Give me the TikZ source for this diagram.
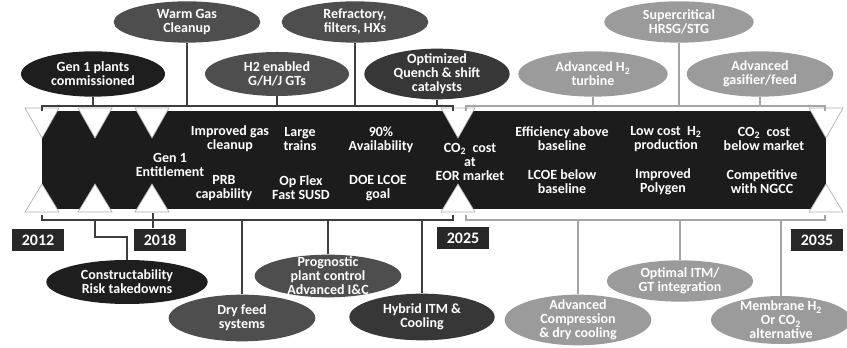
\documentclass[tikz,border=0pt]{standalone}
\usepackage{fontspec}
\setmainfont{Carlito}
\usepackage{tikz}
\usetikzlibrary{calc,shapes.geometric}
\definecolor{bandblack}{RGB}{28,28,28}
\definecolor{yearblack}{RGB}{40,40,40}
\definecolor{ovalblack}{RGB}{30,30,30}
\definecolor{ovaldark}{RGB}{78,78,78}
\definecolor{ovalmid}{RGB}{55,55,55}
\definecolor{ovallight}{RGB}{155,155,155}
\definecolor{linedark}{RGB}{62,62,62}
\definecolor{linelight}{RGB}{165,165,165}
\definecolor{notchgrey}{RGB}{175,175,175}
\tikzset{
  link/.style={draw=linedark, line width=1.5pt},
  linksoft/.style={draw=linelight, line width=1.6pt},
  oval/.style={
    ellipse,
    inner sep=-8pt,
    align=center,
    text=white,
    font=\bfseries\fontsize{10.5}{10.5}\selectfont
  },
  blackoval/.style={oval, fill=ovalblack},
  darkoval/.style={oval, fill=ovaldark},
  midoval/.style={oval, fill=ovalmid},
  lightoval/.style={oval, fill=ovallight},
  yearbox/.style={
    fill=yearblack,
    text=white,
    inner sep=0pt,
    minimum width=39pt,
    minimum height=17pt,
    font=\bfseries\fontsize{12}{12}\selectfont
  },
  bandtext/.style={align=center, text=white, inner sep=0pt, font=\bfseries\fontsize{10.5}{10.5}\selectfont},
  notch/.style={fill=white, draw=notchgrey, line width=0.5pt}
}

\begin{document}
\begin{tikzpicture}[x=0.75pt,y=-0.75pt]
  \useasboundingbox (0,0) rectangle (847,348);

  \fill[bandblack] (42,111) rectangle (826,209);
  \foreach \tx in {42,95,152,458,826}{
    \draw[notch] (\tx-17,108) -- (\tx+17,108) -- (\tx,138) -- cycle;
    \draw[notch] (\tx-17,212) -- (\tx+17,212) -- (\tx,184) -- cycle;
  }

  \node[bandtext] (entitle) at (170,165) {Gen 1\\Entitlement};
  \node[bandtext] (impgas) at (230,139) {Improved gas\\cleanup};
  \node[bandtext] (trains) at (300,139) {Large\\trains};
  \node[bandtext] (avail) at (381,140) {90\%\\Availability};
  \node[bandtext] (prb) at (224,188) {PRB\\capability};
  \node[bandtext] (opflex) at (301,188) {Op Flex\\Fast SUSD};
  \node[bandtext] (doegoal) at (378,188) {DOE LCOE\\goal};
  \node[bandtext] (eor) at (470,162) {CO\textsubscript{2}\ \ cost\\at\\EOR market};
  \node[bandtext] (effic) at (562,139) {Efficiency above\\baseline};
  \node[bandtext] (lcoe) at (562,182) {LCOE below\\baseline};
  \node[bandtext] (lowcost) at (666,139) {Low cost\ \ H\textsubscript{2}\\production};
  \node[bandtext] (polygen) at (663,182) {Improved\\Polygen};
  \node[bandtext] (cobelow) at (764,139) {CO\textsubscript{2}\ \ cost\\below market};
  \node[bandtext] (ngcc) at (762,182) {Competitive\\with NGCC};

  \coordinate (topdarkL) at (42,106);
  \coordinate (topdarkR) at (453,106);
  \coordinate (toplightL) at (466,106);
  \coordinate (toplightR) at (825,106);
  \coordinate (botdarkL) at (42,220);
  \coordinate (botdarkR) at (453,220);
  \coordinate (botlightL) at (466,220);
  \coordinate (botlightR) at (825,220);
  \coordinate (conbend) at (95,237);
  \coordinate (tick18) at (153,213);

  \node[yearbox] (y2012) at (38,240) {2012};
  \node[yearbox] (y2018) at (160,240) {2018};
  \node[yearbox] (y2025) at (463,238) {2025};
  \node[yearbox] (y2035) at (817,240) {2035};

  \node[darkoval,minimum width=110pt,minimum height=31pt]
    (warm) at (187,22) {Warm Gas\\Cleanup};
  \node[darkoval,minimum width=110pt,minimum height=31pt]
    (refract) at (355,22) {Refractory,\\filters, HXs};
  \node[lightoval,minimum width=112pt,minimum height=31pt]
    (supercrit) at (679,22) {Supercritical\\HRSG/STG};
  \node[blackoval,minimum width=108pt,minimum height=34pt]
    (genone) at (93,74) {Gen 1 plants\\commissioned};
  \node[darkoval,minimum width=108pt,minimum height=33pt]
    (htwo) at (277,74) {H2 enabled\\G/H/J GTs};
  \node[midoval,minimum width=109pt,minimum height=38pt]
    (quench) at (437,74) {Optimized\\Quench \& shift\\catalysts};
  \node[lightoval,minimum width=112pt,minimum height=34pt]
    (advhtwo) at (593,74) {Advanced H\textsubscript{2}\\turbine};
  \node[lightoval,minimum width=110pt,minimum height=34pt]
    (gasifier) at (760,74) {Advanced\\gasifier/feed};

  \node[blackoval,minimum width=121pt,minimum height=33pt]
    (construct) at (127,282) {Constructability\\Risk takedowns};
  \node[darkoval,minimum width=110pt,minimum height=35pt]
    (dryfeed) at (242,318) {Dry feed\\systems};
  \node[darkoval,minimum width=110pt,minimum height=32pt]
    (prognost) at (328,276) {Prognostic\\plant control\\Advanced I\&C};
  \node[midoval,minimum width=109pt,minimum height=35pt]
    (hybrid) at (422,317) {Hybrid ITM \&\\Cooling};
  \node[lightoval,minimum width=110pt,minimum height=38pt]
    (compress) at (578,320) {Advanced\\Compression\\\& dry cooling};
  \node[lightoval,minimum width=110pt,minimum height=31pt]
    (optimal) at (680,281) {Optimal ITM/\\GT integration};
  \node[lightoval,minimum width=105pt,minimum height=36pt]
    (membrane) at (781,320) {Membrane H\textsubscript{2}\\Or CO\textsubscript{2}\\alternative};

  \draw[link] ($(topdarkL)+(0,5)$) -- (topdarkL) -- (topdarkR) -- ++(0,5);
  \draw[linksoft] ($(toplightL)+(0,5)$) -- (toplightL) -- (toplightR) -- ++(0,5);
  \draw[link] ($(botdarkL)+(0,-5)$) -- (botdarkL) -- (botdarkR) -- ++(0,-5);
  \draw[linksoft] ($(botlightL)+(0,-5)$) -- (botlightL) -- (botlightR) -- ++(0,-5);

  \draw[link] (genone) -- (genone |- topdarkL);
  \draw[link] (warm) -- (warm |- topdarkL);
  \draw[link] (htwo) -- (htwo |- topdarkL);
  \draw[link] (refract) -- (refract |- topdarkL);
  \draw[link] (quench) -- (quench |- topdarkL);
  \draw[linksoft] (advhtwo) -- (advhtwo |- toplightL);
  \draw[linksoft] (supercrit) -- (supercrit |- toplightL);
  \draw[linksoft] (gasifier) -- (gasifier |- toplightL);

  \draw[link] (conbend |- botdarkL) -- (conbend) -| (construct);
  \draw[link] (tick18) -- (tick18 |- y2018.north);
  \draw[link] (dryfeed) -- (dryfeed |- botdarkL);
  \draw[link] (prognost) -- (prognost |- botdarkL);
  \draw[link] (hybrid) -- (hybrid |- botdarkL);
  \draw[linksoft] (compress) -- (compress |- botlightL);
  \draw[linksoft] (optimal) -- (optimal |- botlightL);
  \draw[linksoft] (membrane) -- (membrane |- botlightL);
\end{tikzpicture}
\end{document}
